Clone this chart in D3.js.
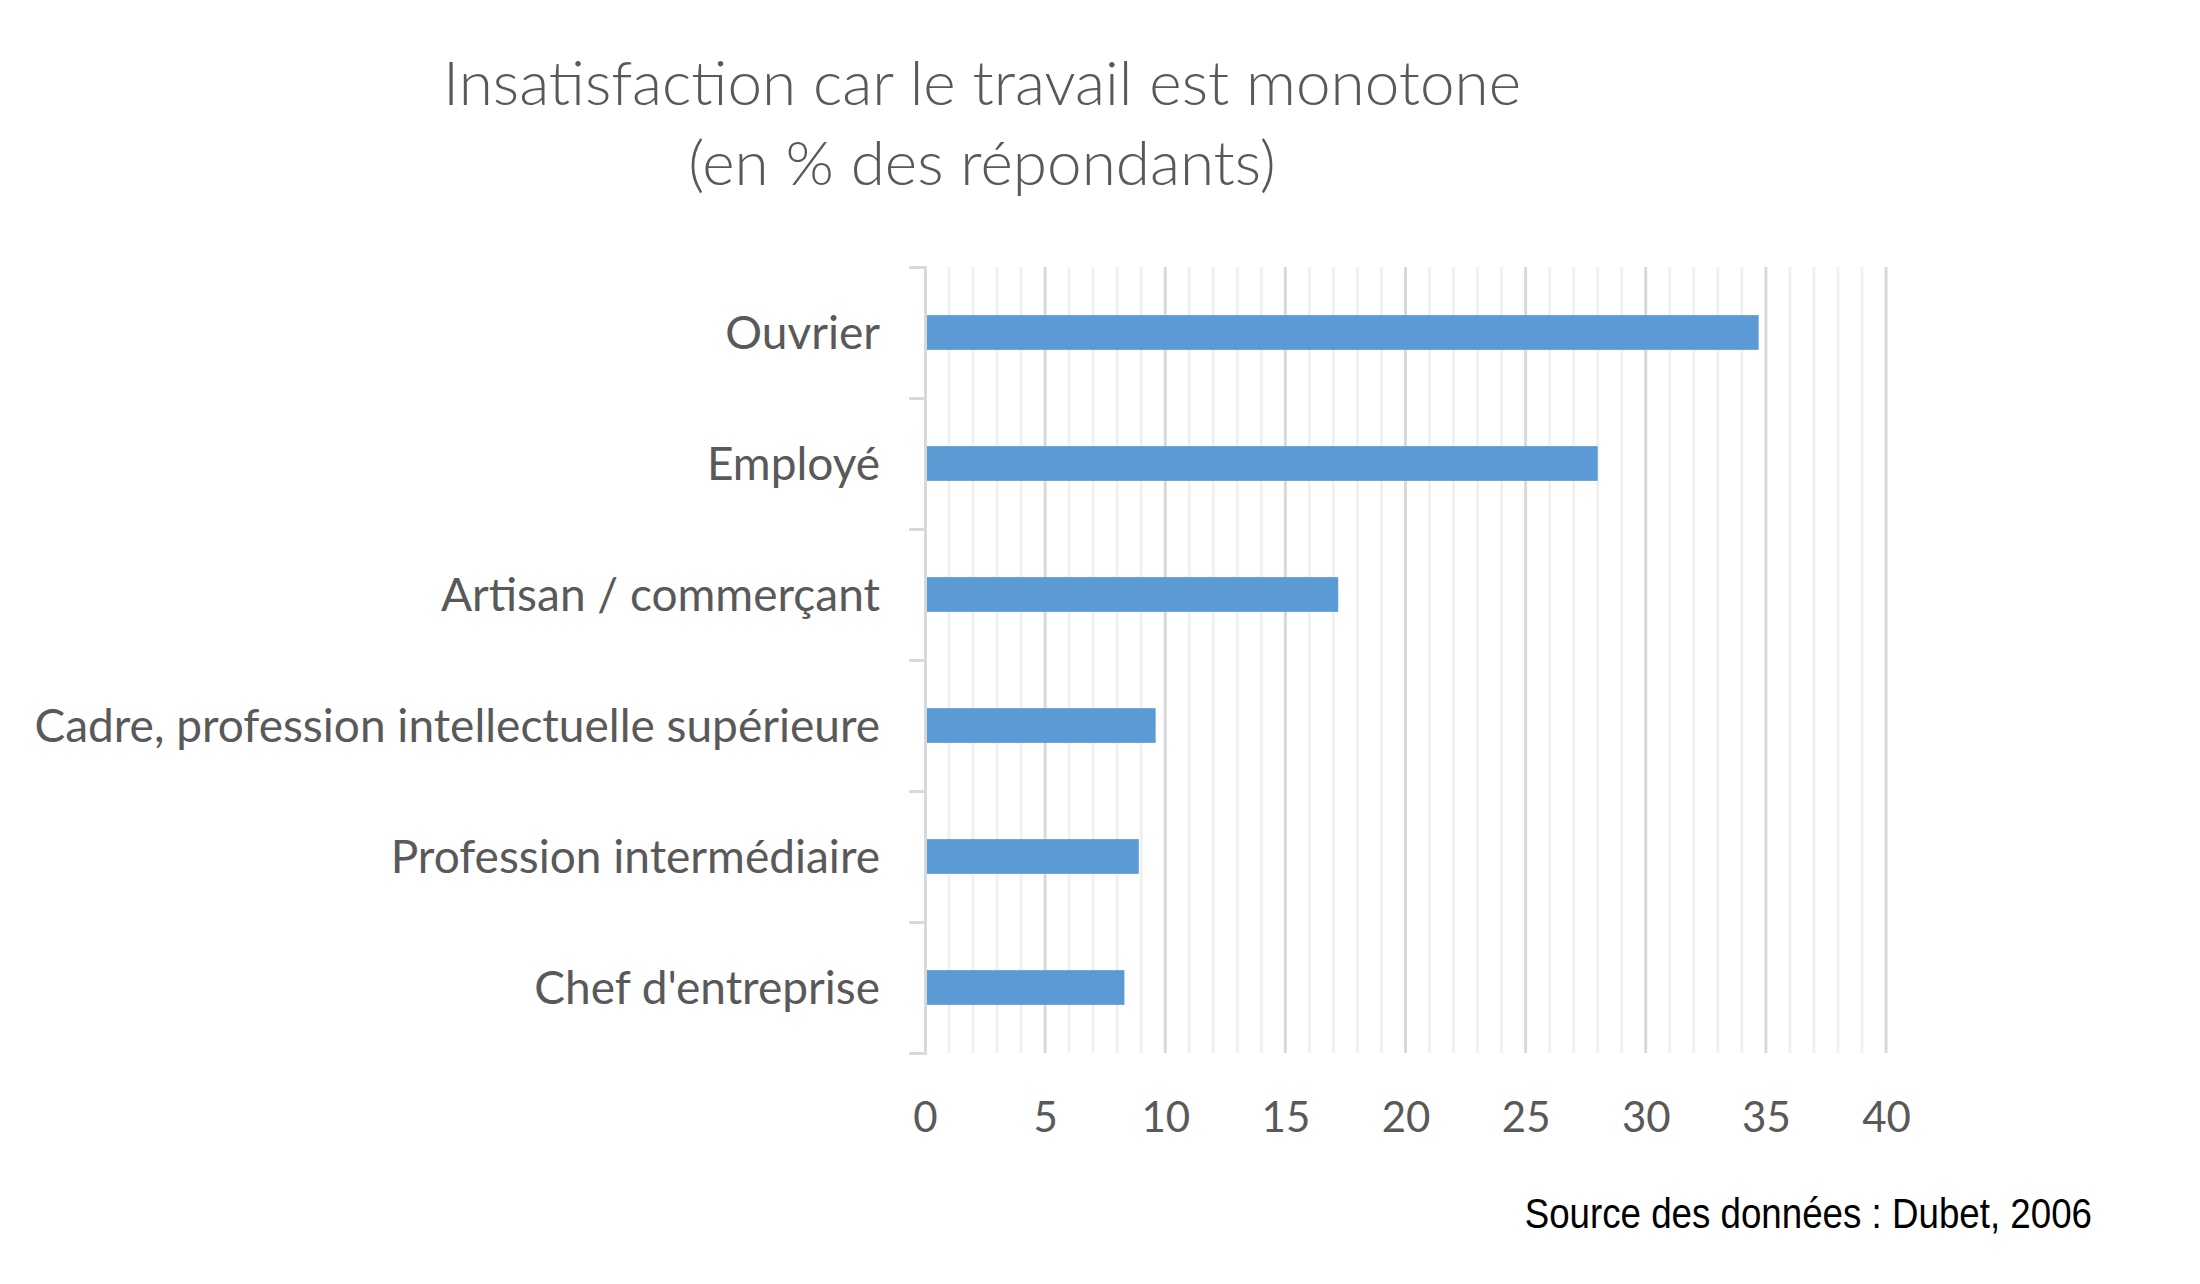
<!DOCTYPE html>
<html>
<head>
<meta charset="utf-8">
<script src="https://cdn.jsdelivr.net/npm/d3@7"></script>
<style>
  body { margin: 0; background: #fff; }
  text { font-family: Lato, "Open Sans", sans-serif; }
</style>
</head>
<body>
<script>
// donnees
const categories = ["Ouvrier", "Employé", "Artisan / commerçant",
  "Cadre, profession intellectuelle supérieure", "Profession intermédiaire", "Chef d'entreprise"]
const values = [34.7, 28, 17.2, 9.6, 8.9, 8.3]
const xTicks = [0, 5, 10, 15, 20, 25, 30, 35, 40]
const titleLines = ["Insatisfaction car le travail est monotone", "(en % des répondants)"]
const sourceText = "Source des données : Dubet, 2006"

const width = 2200
const height = 1284
const plotLeft = 925, plotRight = 1886, plotTop = 267, plotBottom = 1053

const svg = d3.select("body").append("svg")
  .attr("width", width)
  .attr("height", height)

const x = d3.scaleLinear().domain([0, 40]).range([plotLeft, plotRight])
const y = d3.scaleBand().domain(categories).range([plotTop, plotBottom])
  .paddingInner(0.735).paddingOuter(0.3675)

// grille : mineure tous les 1, majeure tous les 5
svg.append("g")
  .selectAll("line")
  .data(d3.range(1, 41).filter(v => v % 5 != 0))
  .enter().append("line")
  .attr("x1", d => x(d)).attr("x2", d => x(d))
  .attr("y1", plotTop).attr("y2", plotBottom)
  .attr("stroke", "#f0f0f0")
  .attr("stroke-width", 3)

svg.append("g")
  .selectAll("line")
  .data(xTicks.slice(1))
  .enter().append("line")
  .attr("x1", d => x(d)).attr("x2", d => x(d))
  .attr("y1", plotTop).attr("y2", plotBottom)
  .attr("stroke", "#d9d9d9")
  .attr("stroke-width", 3)

// axe des categories avec les traits entre les categories
const yEdges = d3.scaleLinear().domain([0, categories.length]).range([plotTop, plotBottom])
svg.append("g")
  .attr("transform", "translate(" + plotLeft + ",0)")
  .call(d3.axisLeft(yEdges).ticks(categories.length).tickSize(16).tickSizeOuter(16).tickFormat(""))
  .call(g => g.selectAll("path, line").attr("stroke", "#d9d9d9").attr("stroke-width", 3))

svg.selectAll("rect.bar")
  .data(values)
  .enter().append("rect")
  .attr("class", "bar")
  .attr("x", x(0) + 2)
  .attr("y", (d, i) => y(categories[i]))
  .attr("width", d => x(d) - x(0) - 2)
  .attr("height", y.bandwidth())
  .attr("fill", "#5b9bd5")

svg.append("g")
  .selectAll("text")
  .data(categories)
  .enter().append("text")
  .attr("x", 880)
  .attr("y", d => y(d) + y.bandwidth() / 2)
  .attr("dy", "0.35em")
  .attr("text-anchor", "end")
  .attr("fill", "#595959")
  .style("font-size", "46px")
  .text(d => d)

// axe des valeurs
svg.append("g")
  .attr("transform", "translate(0," + plotBottom + ")")
  .call(d3.axisBottom(x).tickValues(xTicks).tickSize(0).tickPadding(49))
  .call(g => g.select(".domain").remove())
  .call(g => g.selectAll("text")
    .attr("fill", "#595959")
    .style("font-family", "Lato, sans-serif")
    .style("font-size", "42px"))

svg.selectAll("text.title")
  .data(titleLines)
  .enter().append("text")
  .attr("class", "title")
  .attr("x", 982)
  .attr("y", (d, i) => 105 + i * 80)
  .attr("text-anchor", "middle")
  .attr("fill", "#595959")
  .style("font-size", "62px")
  .style("font-weight", 300)
  .text(d => d)

// source en police etroite (Arial Narrow simule)
svg.append("text")
  .attr("transform", "translate(2092,1228) scale(0.854,1)")
  .attr("text-anchor", "end")
  .attr("fill", "#000")
  .style("font-family", "'Liberation Sans', Arial, sans-serif")
  .style("font-size", "43px")
  .text(sourceText)
</script>
</body>
</html>
